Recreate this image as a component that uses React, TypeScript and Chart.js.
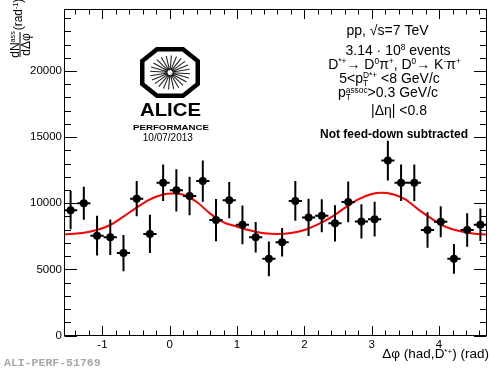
import React, { useEffect, useRef } from 'react';
import { Chart, registerables } from 'chart.js';
Chart.register(...registerables);

// ---- axis ranges ----
const XMIN = -Math.PI / 2;
const XMAX = 1.5 * Math.PI;
const YMIN = 0;
const YMAX = 24700;

// ---- data: bin centers (rad), yields, errors ----
const binCenters = [
  -1.4726, -1.2763, -1.0799, -0.8836, -0.6872, -0.4909, -0.2945, -0.0982,
  0.0982, 0.2945, 0.4909, 0.6872, 0.8836, 1.0799, 1.2763, 1.4726,
  1.669, 1.8653, 2.0617, 2.258, 2.4544, 2.6507, 2.8471, 3.0434,
  3.2398, 3.4361, 3.6325, 3.8288, 4.0252, 4.2215, 4.4179, 4.6142,
];
const yields = [
  9480, 10000, 7550, 7430, 6230, 10350, 7680, 11550,
  10980, 10550, 11680, 8730, 10230, 8370, 7430, 5800,
  7050, 10180, 8930, 9050, 8480, 10100, 8630, 8800,
  13230, 11550, 11550, 7980, 8600, 5800, 7980, 8380,
];
const yieldErrors = [
  1440, 1250, 1500, 1350, 1370, 1340, 1450, 1375,
  1600, 1450, 1560, 1600, 1370, 1470, 1150, 1310,
  1075, 1500, 1410, 1250, 1375, 1540, 1290, 1320,
  1500, 1375, 1375, 1340, 1170, 1125, 1270, 1230,
];
const binHalfWidth = 0.0982;

// ---- fit curve samples ----
const fitX = [
  -1.571, -1.3, -1.1, -0.9, -0.7, -0.5, -0.3, -0.1, 0.05, 0.2, 0.4, 0.6, 0.8,
  1.0, 1.2, 1.4, 1.6, 1.8, 2.0, 2.2, 2.4, 2.6, 2.8, 3.0, 3.15, 3.3, 3.5, 3.7,
  3.9, 4.1, 4.3, 4.5, 4.712,
];
const fitY = [
  7640, 7760, 7960, 8320, 8950, 9650, 10280, 10660, 10730, 10640, 10100, 9220, 8560,
  8230, 7940, 7740, 7680, 7750, 7980, 8400, 8950, 9650, 10300, 10700, 10790, 10700, 10300, 9500,
  8800, 8220, 7900, 7720, 7640,
];

// ---- ticks ----
const xTicks = [-1, 0, 1, 2, 3, 4];
const yTicks = [0, 5000, 10000, 15000, 20000];
const xMinorStep = 0.2;
const yMinorStep = 1000;

const FAM = '"Liberation Sans", Arial, Helvetica, sans-serif';

type Seg = { t?: string; k?: 'sup' | 'sub'; st?: [string, string] };

function fnt(fs: number, bold = false) {
  return `${bold ? 'bold ' : ''}${fs}px ${FAM}`;
}
function segW(ctx: CanvasRenderingContext2D, s: Seg, fs: number, bold: boolean) {
  if (s.st) {
    ctx.font = fnt(fs * 0.6, bold);
    return Math.max(ctx.measureText(s.st[0]).width, ctx.measureText(s.st[1]).width);
  }
  ctx.font = fnt(s.k ? fs * 0.6 : fs, bold);
  return ctx.measureText(s.t || '').width;
}
function drawRich(
  ctx: CanvasRenderingContext2D,
  segs: Seg[],
  x: number,
  y: number,
  fs: number,
  align: 'center' | 'left' | 'right',
  bold = false
) {
  const total = segs.reduce((a, s) => a + segW(ctx, s, fs, bold), 0);
  let cx = align === 'center' ? x - total / 2 : align === 'right' ? x - total : x;
  const base = y + 0.36 * fs;
  ctx.textAlign = 'left';
  ctx.textBaseline = 'alphabetic';
  for (const s of segs) {
    const w = segW(ctx, s, fs, bold);
    if (s.st) {
      ctx.font = fnt(fs * 0.6, bold);
      ctx.fillText(s.st[0], cx, base - 0.3 * fs);
      ctx.fillText(s.st[1], cx, base + 0.26 * fs);
    } else if (s.k === 'sup') {
      ctx.font = fnt(fs * 0.6, bold);
      ctx.fillText(s.t || '', cx, base - 0.3 * fs);
    } else if (s.k === 'sub') {
      ctx.font = fnt(fs * 0.6, bold);
      ctx.fillText(s.t || '', cx, base + 0.22 * fs);
    } else {
      ctx.font = fnt(fs, bold);
      ctx.fillText(s.t || '', cx, base);
    }
    cx += w;
  }
}

const errorBarPlugin = {
  id: 'errorBars',
  beforeDatasetDraw(chart: any, args: any) {
    if (args.index !== 1) return;
    const ctx: CanvasRenderingContext2D = chart.ctx;
    const xs = chart.scales.x;
    const ys = chart.scales.y;
    ctx.save();
    ctx.strokeStyle = '#000';
    ctx.lineWidth = 2;
    ctx.beginPath();
    binCenters.forEach((xv, i) => {
      const px = xs.getPixelForValue(xv);
      const py = ys.getPixelForValue(yields[i]);
      const top = ys.getPixelForValue(yields[i] + yieldErrors[i]);
      const bot = ys.getPixelForValue(yields[i] - yieldErrors[i]);
      const l = xs.getPixelForValue(Math.max(XMIN, xv - binHalfWidth));
      const r = xs.getPixelForValue(Math.min(XMAX, xv + binHalfWidth));
      ctx.moveTo(px, top);
      ctx.lineTo(px, bot);
      ctx.moveTo(l, py);
      ctx.lineTo(r, py);
    });
    ctx.stroke();
    ctx.restore();
  },
};

const framePlugin = {
  id: 'frame',
  afterDraw(chart: any) {
    const ctx: CanvasRenderingContext2D = chart.ctx;
    const { left, right, top, bottom } = chart.chartArea;
    const xs = chart.scales.x;
    const ys = chart.scales.y;
    ctx.save();
    ctx.strokeStyle = '#000';
    ctx.lineWidth = 1;
    const L = Math.round(left) + 0.5;
    const R = Math.round(right) - 0.5;
    const T = Math.round(top) + 0.5;
    const B = Math.round(bottom) - 0.5;
    ctx.strokeRect(L, T, R - L, B - T);
    ctx.beginPath();
    // x ticks
    const xMaj = 9.5, xMin = 5;
    for (let v = Math.ceil(XMIN / xMinorStep) * xMinorStep; v <= XMAX + 1e-9; v += xMinorStep) {
      const isMaj = xTicks.some((t) => Math.abs(t - v) < 1e-6);
      const len = isMaj ? xMaj : xMin;
      const px = Math.round(xs.getPixelForValue(v)) + 0.5;
      ctx.moveTo(px, B);
      ctx.lineTo(px, B - len);
      ctx.moveTo(px, T);
      ctx.lineTo(px, T + len);
    }
    // y ticks
    const yMaj = 12.5, yMin = 6.5;
    for (let v = YMIN; v <= YMAX + 1e-9; v += yMinorStep) {
      const isMaj = yTicks.some((t) => Math.abs(t - v) < 1e-6);
      const len = isMaj ? yMaj : yMin;
      const py = Math.round(ys.getPixelForValue(v)) + 0.5;
      ctx.moveTo(L, py);
      ctx.lineTo(L + len, py);
      ctx.moveTo(R, py);
      ctx.lineTo(R - len, py);
    }
    ctx.stroke();

    ctx.fillStyle = '#000';
    // info text
    drawRich(ctx, [{ t: 'pp, √s=7 TeV' }], 387.5, 29.5, 14, 'center');
    drawRich(ctx, [{ t: '3.14 · 10' }, { t: '8', k: 'sup' }, { t: ' events' }], 398, 49.5, 14, 'center');
    drawRich(
      ctx,
      [
        { t: 'D' }, { t: '*+', k: 'sup' }, { t: '→ D' }, { t: '0', k: 'sup' }, { t: 'π' }, { t: '+', k: 'sup' },
        { t: ', D' }, { t: '0', k: 'sup' }, { t: '→ K' }, { t: '-', k: 'sup' }, { t: 'π' }, { t: '+', k: 'sup' },
      ],
      394.5, 63.5, 14, 'center'
    );
    drawRich(ctx, [{ t: '5<p' }, { st: ['D*+', 'T'] }, { t: ' <8 GeV/c' }], 389.5, 77.5, 14, 'center');
    drawRich(ctx, [{ t: 'p' }, { st: ['assoc', 'T'] }, { t: '>0.3 GeV/c' }], 388, 91.7, 14, 'center');
    drawRich(ctx, [{ t: '|Δη| <0.8' }], 399, 110, 14, 'center');
    drawRich(ctx, [{ t: 'Not feed-down subtracted' }], 394, 134, 12, 'center', true);

    // x-axis title
    drawRich(ctx, [{ t: 'Δφ (had,D' }, { t: '*+', k: 'sup' }, { t: ') (rad)' }], 489, 352.7, 13.5, 'right');

    // y-axis title (rotated)
    ctx.save();
    ctx.rotate(-Math.PI / 2);
    drawRich(ctx, [{ t: '(rad' }, { t: '-1', k: 'sup' }, { t: ')' }], -14.5, 17.5, 12, 'center');
    drawRich(ctx, [{ t: 'dN' }, { t: 'ass', k: 'sup' }], -44.5, 14.5, 12, 'center');
    ctx.beginPath();
    ctx.moveTo(-57, 20);
    ctx.lineTo(-32, 20);
    ctx.lineWidth = 1;
    ctx.stroke();
    drawRich(ctx, [{ t: 'dΔφ' }], -44.5, 25.5, 12, 'center');
    ctx.restore();

    // ALICE logo
    const oL = 140, oR = 200, oT = 47, oB = 98, ox = 17, oy = 14, lw = 4.5;
    const h = lw / 2;
    ctx.beginPath();
    ctx.moveTo(oL + ox, oT + h);
    ctx.lineTo(oR - ox, oT + h);
    ctx.lineTo(oR - h, oT + oy);
    ctx.lineTo(oR - h, oB - oy);
    ctx.lineTo(oR - ox, oB - h);
    ctx.lineTo(oL + ox, oB - h);
    ctx.lineTo(oL + h, oB - oy);
    ctx.lineTo(oL + h, oT + oy);
    ctx.closePath();
    ctx.lineWidth = lw;
    ctx.lineJoin = 'miter';
    ctx.stroke();
    const ccx = 170, ccy = 72.5;
    ctx.beginPath();
    const nSp = 24;
    for (let k = 0; k < nSp; k++) {
      const a = (k / nSp) * Math.PI * 2 + 0.07;
      ctx.moveTo(ccx + 2.5 * Math.cos(a), ccy + 2.5 * Math.sin(a));
      ctx.lineTo(ccx + 20 * Math.cos(a), ccy + 17 * Math.sin(a));
    }
    ctx.lineWidth = 1.1;
    ctx.strokeStyle = '#222';
    ctx.stroke();

    ctx.fillStyle = '#000';
    ctx.textBaseline = 'middle';
    ctx.textAlign = 'center';
    ctx.font = `bold 18px ${FAM}`;
    const aw = ctx.measureText('ALICE').width;
    ctx.save();
    ctx.translate(170.5, 111);
    ctx.scale(61 / aw, 1);
    ctx.fillText('ALICE', 0, 0);
    ctx.restore();
    ctx.font = `bold 8px ${FAM}`;
    const pw = ctx.measureText('PERFORMANCE').width;
    ctx.save();
    ctx.translate(171, 127.5);
    ctx.scale(76 / pw, 1);
    ctx.fillText('PERFORMANCE', 0, 0);
    ctx.restore();
    ctx.font = `10px ${FAM}`;
    ctx.fillText('10/07/2013', 167.8, 138.5);

    // bottom-left id
    ctx.textAlign = 'left';
    ctx.fillStyle = '#a8a8a8';
    ctx.font = `bold 11.5px "Liberation Mono", "Courier New", monospace`;
    ctx.fillText('ALI-PERF-51769', 4, 363);
    ctx.restore();
  },
};

export default function App() {
  const ref = useRef<HTMLCanvasElement>(null);
  useEffect(() => {
    const canvas = ref.current!;
    const chart = new Chart(canvas, {
      type: 'scatter',
      data: {
        datasets: [
          {
            type: 'line',
            label: 'fit',
            data: fitX.map((x, i) => ({ x, y: fitY[i] })),
            borderColor: '#ff0000',
            borderWidth: 2,
            pointRadius: 0,
            cubicInterpolationMode: 'monotone',
            fill: false,
            order: 2,
          } as any,
          {
            label: 'data',
            data: binCenters.map((x, i) => ({ x, y: yields[i] })),
            pointRadius: 4,
            pointBackgroundColor: '#000',
            pointBorderWidth: 0,
            backgroundColor: '#000',
            borderColor: '#000',
            order: 1,
          },
        ],
      },
      options: {
        animation: false,
        responsive: false,
        layout: { padding: { top: 6, right: 2, left: 0, bottom: 0 } },
        plugins: { legend: { display: false }, tooltip: { enabled: false } },
        scales: {
          x: {
            type: 'linear',
            min: XMIN,
            max: XMAX,
            afterBuildTicks: (s: any) => {
              s.ticks = xTicks.map((v) => ({ value: v }));
            },
            afterFit: (s: any) => {
              s.height = 45.5;
            },
            grid: { display: false, drawTicks: false },
            border: { display: false },
            ticks: {
              color: '#000',
              padding: 2,
              maxRotation: 0,
              font: { family: FAM, size: 11.5 },
              callback: (v: any) => String(v),
            },
          },
          y: {
            type: 'linear',
            min: YMIN,
            max: YMAX,
            afterBuildTicks: (s: any) => {
              s.ticks = yTicks.map((v) => ({ value: v }));
            },
            afterFit: (s: any) => {
              s.width = 64;
            },
            grid: { display: false, drawTicks: false },
            border: { display: false },
            ticks: {
              color: '#000',
              padding: 2,
              font: { family: FAM, size: 11.5 },
              callback: (v: any) => String(v),
            },
          },
        },
      },
      plugins: [errorBarPlugin, framePlugin],
    } as any);
    return () => chart.destroy();
  }, []);
  return (
    <div style={{ position: 'fixed', left: 0, top: 0, width: 491, height: 381, background: '#fff' }}>
      <canvas ref={ref} width={491} height={381} style={{ display: 'block', width: 491, height: 381 }} />
    </div>
  );
}
